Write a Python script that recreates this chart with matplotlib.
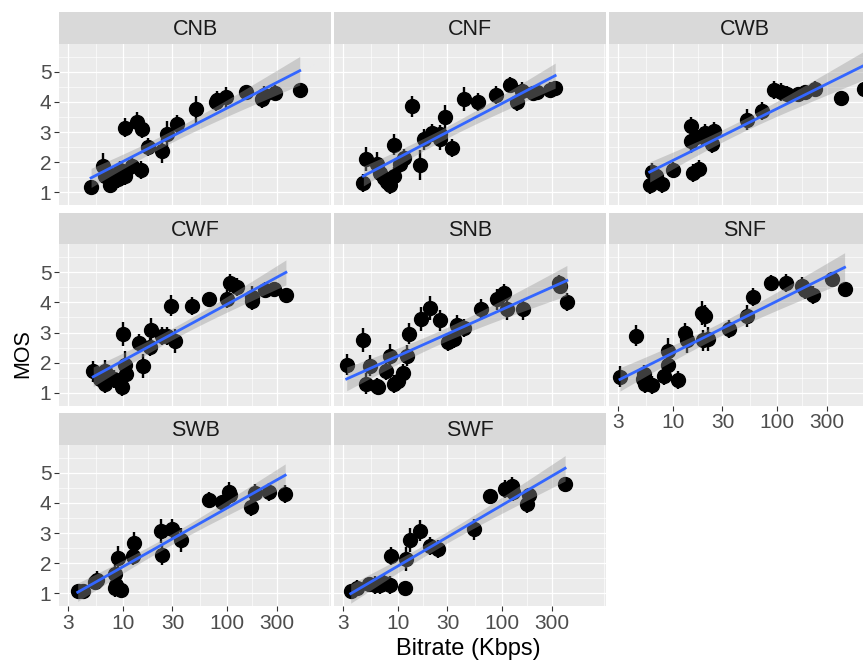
import numpy as np
import matplotlib
matplotlib.use('Agg')
import matplotlib.pyplot as plt

plt.rcParams['font.family'] = ['Liberation Sans', 'DejaVu Sans']

# 各面板数据：码率 (Kbps)、MOS 均值、误差棒半宽
panels = ['CNB', 'CNF', 'CWB', 'CWF', 'SNB', 'SNF', 'SWB', 'SWF']

cnb_rate = [4.96, 6.5, 6.7, 7.5, 8.0, 9.4, 10.5, 12.2, 10.5, 13.6, 15.2, 15.0, 17.6, 23.7,
            26.5, 33, 51, 78, 80, 98, 152, 217, 229, 291, 501, 9.0, 7.0]
cnb_mos = [1.17, 1.86, 1.53, 1.25, 1.36, 1.75, 1.53, 1.86, 3.15, 3.32, 3.10, 1.72, 2.50, 2.37,
           2.95, 3.26, 3.75, 3.99, 4.05, 4.16, 4.33, 4.10, 4.22, 4.30, 4.40, 1.45, 1.62]
cnb_ci = [0.2, 0.45, 0.3, 0.25, 0.3, 0.3, 0.3, 0.3, 0.3, 0.35, 0.3, 0.3, 0.3, 0.4,
          0.4, 0.3, 0.45, 0.3, 0.3, 0.35, 0.25, 0.3, 0.3, 0.25, 0.2, 0.3, 0.3]

cnf_rate = [4.67, 4.96, 6.3, 6.7, 7.3, 7.9, 8.4, 9.1, 9.1, 10.5, 11.5, 13.6, 16.4, 18.0, 21.2,
            25.5, 25.3, 28.5, 33, 43.7, 59.6, 87.5, 120, 139, 156, 201, 219, 291, 325]
cnf_mos = [1.30, 2.09, 1.92, 1.64, 1.47, 1.34, 1.25, 1.53, 2.57, 1.92, 2.12, 3.86, 1.90, 2.76, 2.98,
           2.76, 2.93, 3.51, 2.48, 4.10, 4.01, 4.22, 4.57, 3.99, 4.36, 4.29, 4.33, 4.41, 4.46]
cnf_ci = [0.3, 0.4, 0.4, 0.3, 0.3, 0.3, 0.3, 0.3, 0.35, 0.3, 0.3, 0.35, 0.5, 0.35, 0.3,
          0.35, 0.3, 0.4, 0.3, 0.4, 0.3, 0.3, 0.25, 0.3, 0.3, 0.25, 0.25, 0.25, 0.25]

cwb_rate = [6.0, 6.3, 6.9, 7.8, 10.1, 15.0, 15.0, 15.5, 17.9, 16.6, 19.0, 20.4, 23.7, 25.0,
            51.4, 71.6, 94.8, 110, 124, 161, 186, 233, 415, 690]
cwb_mos = [1.22, 1.67, 1.53, 1.27, 1.75, 3.21, 2.70, 1.64, 1.78, 2.82, 2.87, 2.98, 2.59, 3.02,
           3.41, 3.71, 4.41, 4.33, 4.27, 4.25, 4.33, 4.44, 4.14, 4.44]
cwb_ci = [0.3, 0.3, 0.3, 0.3, 0.25, 0.3, 0.4, 0.3, 0.3, 0.35, 0.3, 0.3, 0.3, 0.3,
          0.35, 0.3, 0.3, 0.3, 0.25, 0.25, 0.25, 0.25, 0.2, 0.25]

cwf_rate = [5.2, 6.0, 6.7, 6.7, 8.3, 9.8, 10.1, 10.5, 10.7, 14.4, 15.5, 18.3, 18.7, 23.7,
            26.5, 31.9, 29.3, 46, 67.6, 99.8, 107, 124, 174, 174, 233, 281, 369]
cwf_mos = [1.71, 1.45, 1.73, 1.30, 1.45, 1.17, 2.96, 1.93, 1.62, 2.65, 1.90, 2.51, 3.07, 2.90,
           2.90, 2.71, 3.89, 3.89, 4.10, 4.11, 4.64, 4.51, 4.19, 4.06, 4.42, 4.44, 4.25]
cwf_ci = [0.35, 0.3, 0.35, 0.3, 0.3, 0.3, 0.4, 0.45, 0.3, 0.3, 0.4, 0.3, 0.4, 0.3,
          0.3, 0.4, 0.35, 0.3, 0.25, 0.3, 0.3, 0.3, 0.35, 0.3, 0.25, 0.25, 0.2]

snb_rate = [3.23, 4.67, 5.0, 5.4, 6.3, 6.5, 7.7, 8.4, 9.1, 10.1, 11.2, 12.2, 12.8, 16.7,
            20.4, 25.5, 30.7, 34.3, 36.9, 42.8, 62.8, 89.5, 104, 112, 161, 350, 363, 421]
snb_mos = [1.93, 2.76, 1.30, 1.90, 1.22, 1.17, 1.73, 2.23, 1.30, 1.39, 1.64, 2.23, 2.96, 3.46,
           3.80, 3.41, 2.68, 2.79, 3.24, 3.16, 3.77, 4.10, 4.33, 3.77, 3.77, 4.66, 4.55, 4.03]
snb_ci = [0.35, 0.4, 0.35, 0.35, 0.25, 0.25, 0.3, 0.4, 0.3, 0.3, 0.3, 0.35, 0.35, 0.4,
          0.4, 0.35, 0.3, 0.3, 0.35, 0.3, 0.35, 0.35, 0.3, 0.35, 0.35, 0.25, 0.25, 0.3]

snf_rate = [3.11, 4.4, 5.2, 5.4, 6.3, 5.3, 8.3, 8.9, 8.9, 11.2, 13.1, 13.6, 19.0,
            20.4, 19.7, 21.9, 34.8, 51.4, 59.6, 88, 122, 176, 187, 220, 337, 447]
snf_mos = [1.53, 2.90, 1.45, 1.28, 1.26, 1.62, 1.56, 1.93, 2.38, 1.41, 2.98, 2.76, 3.66,
           3.55, 2.74, 2.79, 3.13, 3.55, 4.19, 4.66, 4.66, 4.55, 4.42, 4.25, 4.78, 4.44]
snf_ci = [0.35, 0.35, 0.3, 0.3, 0.3, 0.3, 0.3, 0.35, 0.45, 0.3, 0.35, 0.45, 0.4,
          0.35, 0.35, 0.4, 0.3, 0.35, 0.3, 0.25, 0.3, 0.3, 0.3, 0.3, 0.25, 0.25]

swb_rate = [3.69, 4.18, 5.4, 5.7, 8.5, 8.5, 8.9, 8.7, 9.6, 12.4, 12.8, 23.3, 23.7, 29.6,
            36.3, 67.6, 89.4, 104, 108, 171, 187, 255, 363]
swb_mos = [1.06, 1.06, 1.37, 1.45, 1.62, 1.17, 2.18, 1.28, 1.11, 2.23, 2.68, 3.07, 2.27, 3.13,
           2.76, 4.10, 4.03, 4.36, 4.25, 3.86, 4.33, 4.36, 4.31]
swb_ci = [0.15, 0.15, 0.25, 0.3, 0.3, 0.3, 0.4, 0.3, 0.2, 0.3, 0.35, 0.4, 0.35, 0.35,
          0.4, 0.25, 0.25, 0.35, 0.3, 0.3, 0.3, 0.3, 0.3]

swf_rate = [3.53, 4.03, 5.3, 6.0, 6.7, 7.3, 8.4, 8.7, 11.7, 11.9, 13.1, 16.4, 20.4, 24.5,
            54, 77, 107, 124, 128, 174, 184, 405]
swf_mos = [1.08, 1.17, 1.30, 1.28, 1.26, 1.34, 1.28, 2.23, 1.17, 2.12, 2.76, 3.07, 2.57, 2.46,
           3.13, 4.22, 4.47, 4.55, 4.36, 3.97, 4.25, 4.62]
swf_ci = [0.2, 0.25, 0.25, 0.3, 0.3, 0.3, 0.3, 0.3, 0.2, 0.4, 0.4, 0.35, 0.3, 0.3,
          0.35, 0.25, 0.3, 0.3, 0.3, 0.3, 0.25, 0.25]

x_breaks = [3, 10, 30, 100, 300]
x_labels = ['3', '10', '30', '100', '300']
y_breaks = [1, 2, 3, 4, 5]

data = {
    'CNB': (cnb_rate, cnb_mos, cnb_ci), 'CNF': (cnf_rate, cnf_mos, cnf_ci),
    'CWB': (cwb_rate, cwb_mos, cwb_ci), 'CWF': (cwf_rate, cwf_mos, cwf_ci),
    'SNB': (snb_rate, snb_mos, snb_ci), 'SNF': (snf_rate, snf_mos, snf_ci),
    'SWB': (swb_rate, swb_mos, swb_ci), 'SWF': (swf_rate, swf_mos, swf_ci),
}

# 版式（像素）
W, H = 863, 662
col_left = [59, 334, 609]
panel_w = 272
strip_top = [12, 212.5, 413]
strip_h = 32
panel_h = 161


def box(l, t, w, h):
    return [l / W, 1 - (t + h) / H, w / W, h / H]


fig = plt.figure(figsize=(W / 100, H / 100), dpi=100)

xmin, xmax = 2.44, 1000
ymin, ymax = 0.57, 5.93
x_minor = [np.sqrt(a * b) for a, b in zip([1, 3, 10, 30, 100, 300], [3, 10, 30, 100, 300, 3000])]
y_minor = [1.5, 2.5, 3.5, 4.5, 5.5]

for i, name in enumerate(panels):
    r, c = divmod(i, 3)
    l = col_left[c]
    st = strip_top[r]

    # 分面标签条
    sax = fig.add_axes(box(l, st, panel_w, strip_h))
    sax.set_facecolor('#D9D9D9')
    sax.set_xticks([])
    sax.set_yticks([])
    for s in sax.spines.values():
        s.set_visible(False)
    sax.text(0.5, 0.45, name, ha='center', va='center', fontsize=15.5, color='#1A1A1A',
             transform=sax.transAxes)

    ax = fig.add_axes(box(l, st + strip_h, panel_w, panel_h))
    ax.set_facecolor('#EBEBEB')
    ax.set_xscale('log')
    ax.set_xlim(xmin, xmax)
    ax.set_ylim(ymin, ymax)
    for s in ax.spines.values():
        s.set_visible(False)

    for v in x_minor:
        ax.axvline(v, color='white', lw=0.45, zorder=0)
    for v in y_minor:
        ax.axhline(v, color='white', lw=0.45, zorder=0)
    for v in x_breaks:
        ax.axvline(v, color='white', lw=0.9, zorder=0)
    for v in y_breaks:
        ax.axhline(v, color='white', lw=0.9, zorder=0)

    rate, mos, ci = data[name]
    rate = np.array(rate)
    mos = np.array(mos)
    ax.errorbar(rate, mos, yerr=ci, fmt='o', color='black', ms=10, elinewidth=1.7,
                capsize=0, zorder=2)

    # 线性拟合 (log10 码率) 及 95% 置信带
    lx = np.log10(rate)
    k, b0 = np.polyfit(lx, mos, 1)
    n = len(lx)
    resid = mos - (k * lx + b0)
    s = np.sqrt(np.sum(resid ** 2) / (n - 2))
    gx = np.linspace(lx.min(), lx.max(), 80)
    fit = k * gx + b0
    se = s * np.sqrt(1 / n + (gx - lx.mean()) ** 2 / np.sum((lx - lx.mean()) ** 2))
    t = 2.05
    ax.fill_between(10 ** gx, fit - t * se, fit + t * se, color='#999999', alpha=0.4,
                    lw=0, zorder=3)
    ax.plot(10 ** gx, fit, color='#3366FF', lw=2.0, zorder=4)

    ax.set_xticks(x_breaks)
    ax.set_xticks([], minor=True)
    ax.set_yticks(y_breaks)
    ax.set_yticks([], minor=True)
    ax.tick_params(colors='#333333', length=3.5, width=0.8, labelcolor='#4D4D4D',
                   labelsize=15, pad=2)

    show_x = name in ('SWB', 'SWF', 'SNF')
    if show_x:
        ax.set_xticklabels(x_labels)
    else:
        ax.tick_params(axis='x', length=0, labelbottom=False)
    if c == 0:
        ax.set_yticklabels([str(v) for v in y_breaks])
    else:
        ax.tick_params(axis='y', length=0, labelleft=False)

fig.text(468 / W, 1 - 649 / H, 'Bitrate (Kbps)', ha='center', va='center', fontsize=17,
         color='black')
fig.text(23 / W, 1 - 354 / H, 'MOS', ha='center', va='center', rotation=90, fontsize=15.5,
         color='black')

fig.savefig('out.png', dpi=100)
